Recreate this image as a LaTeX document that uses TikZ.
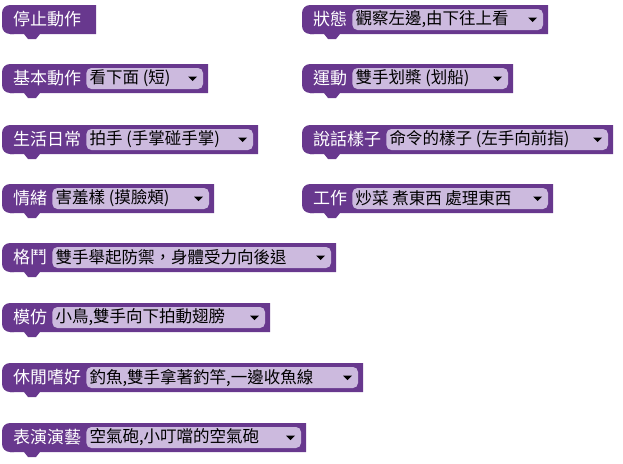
\documentclass[tikz,border=0pt]{standalone}
\usepackage{fontspec}
\setmainfont{Noto Sans CJK TC}
\definecolor{blk}{RGB}{104,56,142}
\definecolor{fld}{RGB}{204,186,222}
\tikzset{
 lab/.style={text=white,font=\fontsize{17}{18}\selectfont,inner sep=0pt,anchor=west},
 ftx/.style={text=black,font=\fontsize{16.5}{18}\selectfont,inner sep=0pt,anchor=west},
}
% x, y(top), right end, name, label, field
\newcommand\blk[6]{%
 \fill[blk] (#1+8,#2) -- (#3,#2) -- (#3,#2+29) -- (#1+38,#2+29) -- (#1+34,#2+34) -- (#1+26,#2+34) -- (#1+22,#2+29) -- (#1+8,#2+29) -- cycle;
 \fill[blk,rounded corners=8pt] (#1,#2) rectangle (#1+20,#2+29);
 \node[lab] (#4) at (#1+11,#2+14.5) {#5};
 \ifx\relax#6\relax\else
 \fill[fld,rounded corners=5pt] ([xshift=5]#4.east|-0,#2+4) rectangle (#3-5,#2+25);
 \node[ftx] (#4f) at ([xshift=8]#4.east) {#6};
 \fill[black] (#3-20,#2+12.5) -- (#3-11,#2+12.5) -- (#3-15.5,#2+17) -- cycle;
 \fi}
\begin{document}
\begin{tikzpicture}[x=1pt,y=-1pt]
\useasboundingbox (0,0) rectangle (623,463);
\blk{2}{5}{96}{a}{停止動作}{}
\blk{2}{64}{208}{b}{基本動作}{看下面 (短)}
\blk{2}{125}{258}{c}{生活日常}{拍手 (手掌碰手掌)}
\blk{2}{184}{214}{d}{情緒}{害羞樣 (摸臉頰)}
\blk{2}{243}{336}{e}{格鬥}{雙手舉起防禦，身體受力向後退}
\blk{2}{303}{270}{f}{模仿}{小鳥,雙手向下拍動翅膀}
\blk{2}{363}{363}{g}{休閒嗜好}{釣魚,雙手拿著釣竿,一邊收魚線}
\blk{2}{423}{306}{h}{表演演藝}{空氣砲,小叮噹的空氣砲}
\blk{302}{5}{548}{i}{狀態}{觀察左邊,由下往上看}
\blk{302}{64}{513}{j}{運動}{雙手划槳 (划船)}
\blk{302}{125}{613}{k}{說話樣子}{命令的樣子 (左手向前指)}
\blk{302}{184}{553}{l}{工作}{炒菜 煮東西 處理東西}
\end{tikzpicture}
\end{document}
